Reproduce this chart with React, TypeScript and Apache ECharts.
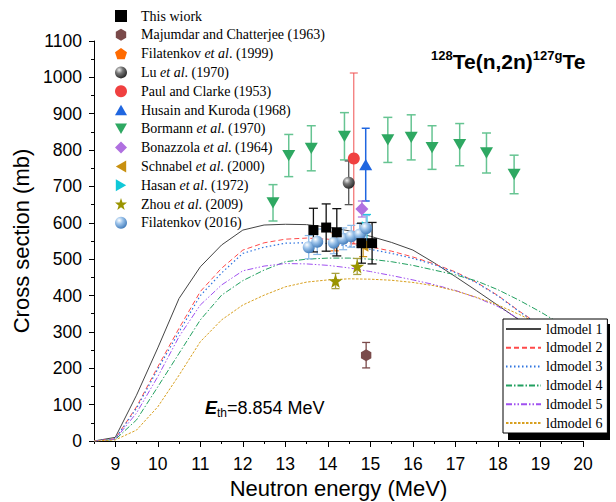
import React, { useEffect, useRef } from 'react';
import * as echarts from 'echarts';

// ---------- Model curves (TALYS-like ldmodels) ----------
const modelE = [8.5, 9, 9.5, 10, 10.5, 11, 11.5, 12, 12.5, 13, 13.5, 14, 14.5, 15, 15.5, 16, 16.5, 17, 17.5, 18, 18.5, 19, 19.5, 20];
const ld1 = [0, 10, 126, 256, 392, 479, 539, 580, 594, 596, 595, 588, 578, 563, 546, 525, 490, 452, 413, 373, 333, 292, 252, 212];
const ld2 = [0, 6, 94, 204, 310, 411, 475, 525, 545, 555, 558, 555, 546, 534, 522, 506, 487, 465, 436, 400, 357, 318, 278, 240];
const ld3 = [0, 6, 90, 198, 300, 400, 462, 516, 533, 544, 545, 543, 536, 527, 516, 502, 485, 463, 435, 399, 356, 317, 277, 238];
const ld4 = [0, 4, 58, 149, 241, 333, 401, 441, 470, 493, 500, 503, 503, 500, 493, 483, 470, 457, 440, 416, 387, 355, 320, 285];
const ld5 = [0, 5, 77, 177, 287, 374, 429, 468, 481, 488, 487, 483, 476, 466, 455, 443, 430, 414, 394, 370, 335, 300, 265, 230];
const ld6 = [0, 3, 30, 94, 181, 273, 333, 374, 401, 424, 437, 443, 446, 445, 442, 436, 427, 413, 395, 374, 348, 320, 290, 260];
const modelNames = ['ldmodel 1', 'ldmodel 2', 'ldmodel 3', 'ldmodel 4', 'ldmodel 5', 'ldmodel 6'];

// ---------- Experimental data ----------
const thisWorkE = [13.66, 13.96, 14.21, 14.79, 15.04];
const thisWorkV = [580, 587, 574, 544, 544];
const thisWorkErr = [60, 65, 65, 55, 57];

const majumdarE = [14.9];
const majumdarV = [236];
const majumdarErr = [35];

const filat1999E = [14.16];
const filat1999V = [548];
const filat1999Err = [25];

const luE = [14.49];
const luV = [710];
const luErr = [60];

const paulE = [14.61];
const paulV = [777];
const paulErr = [235];

const husainE = [14.89];
const husainV = [760];
const husainErr = [100];

const bormannE = [12.71, 13.08, 13.61, 14.39, 15.41, 15.96, 16.45, 17.1, 17.73, 18.38];
const bormannV = [655, 785, 805, 838, 828, 835, 807, 815, 792, 733];
const bormannErr = [50, 58, 62, 65, 62, 62, 60, 58, 55, 53];

const bonazzolaE = [14.8];
const bonazzolaV = [638];
const bonazzolaErr = [22];

const schnabelE = [14.83];
const schnabelV = [537];
const schnabelErr = [30];

const hasanE = [14.92];
const hasanV = [588];
const hasanErr = [35];

const zhouE = [14.18, 14.69];
const zhouV = [440, 480];
const zhouErr = [21, 22];

const filat2016E = [13.55, 13.75, 14.14, 14.36, 14.55, 14.75, 14.9];
const filat2016V = [533, 548, 545, 556, 563, 568, 585];
const filat2016Err = [32, 35, 30, 30, 30, 30, 35];

const expNames = [
  'This wiork',
  'Majumdar and Chatterjee (1963)',
  'Filatenkov et al. (1999)',
  'Lu et al. (1970)',
  'Paul and Clarke (1953)',
  'Husain and Kuroda (1968)',
  'Bormann et al. (1970)',
  'Bonazzola et al. (1964)',
  'Schnabel et al. (2000)',
  'Hasan et al. (1972)',
  'Zhou et al. (2009)',
  'Filatenkov (2016)',
];

const xMajor = [9, 10, 11, 12, 13, 14, 15, 16, 17, 18, 19, 20];
const xMinor = [8.5, 9.5, 10.5, 11.5, 12.5, 13.5, 14.5, 15.5, 16.5, 17.5, 18.5, 19.5];

const SANS = 'Liberation Sans';
const SERIF = 'Liberation Serif';

const SYM = {
  hexagon: 'path://M5,0L9.33,2.5L9.33,7.5L5,10L0.67,7.5L0.67,2.5Z',
  pentagon: 'path://M5,0L9.76,3.45L7.94,9.05L2.06,9.05L0.24,3.45Z',
  down: 'path://M0,0L10,0L5,8.66Z',
  up: 'path://M5,0L10,8.66L0,8.66Z',
  left: 'path://M8.66,0L8.66,10L0,5Z',
  right: 'path://M0,0L0,10L8.66,5Z',
  diamond: 'path://M5,0L10,5L5,10L0,5Z',
  square: 'path://M0,0L10,0L10,10L0,10Z',
  star: 'path://M5,0L6.18,3.62L9.76,3.62L6.9,5.86L7.94,9.51L5,7.24L2.06,9.51L3.1,5.86L0.24,3.62L3.82,3.62Z',
};

function sphere(light: string, mid: string, dark: string) {
  return new echarts.graphic.RadialGradient(0.35, 0.3, 0.75, [
    { offset: 0, color: light },
    { offset: 0.4, color: mid },
    { offset: 1, color: dark },
  ]);
}

function errSeries(E: number[], V: number[], err: number[], color: string, lw = 1.2, cap = 8) {
  return {
    type: 'custom',
    silent: true,
    z: 2,
    data: E.map((e, i) => [e, V[i] - err[i], V[i] + err[i]]),
    encode: { x: 0, y: [1, 2] },
    renderItem: (params: any, api: any) => {
      const x = api.value(0);
      const lo = api.value(1);
      const hi = api.value(2);
      const top = api.coord([x, hi]);
      const bot = api.coord([x, lo]);
      const h = cap / 2;
      const st = { stroke: color, lineWidth: lw };
      return {
        type: 'group',
        children: [
          { type: 'line', shape: { x1: top[0], y1: top[1], x2: bot[0], y2: bot[1] }, style: st },
          { type: 'line', shape: { x1: top[0] - h, y1: top[1], x2: top[0] + h, y2: top[1] }, style: st },
          { type: 'line', shape: { x1: bot[0] - h, y1: bot[1], x2: bot[0] + h, y2: bot[1] }, style: st },
        ],
      };
    },
  };
}

function scatter(name: string, E: number[], V: number[], symbol: string, size: number, color: any) {
  return {
    type: 'scatter',
    name,
    z: 3,
    symbol,
    symbolSize: size,
    symbolKeepAspect: true,
    itemStyle: { color, opacity: 1 },
    data: E.map((e, i) => [e, V[i]]),
  };
}

function modelLine(name: string, vals: number[], color: string, dash: any, width = 1) {
  return {
    type: 'line',
    name,
    z: 1,
    symbol: 'none',
    lineStyle: { color, width, type: dash },
    itemStyle: { color },
    data: modelE.map((e, i) => [e, vals[i]]),
  };
}

function legendFormatter(name: string) {
  const idx = name.indexOf('et al');
  if (idx < 0) return '{n|' + name + '}';
  return '{n|' + name.slice(0, idx) + '}{i|et al}{n|' + name.slice(idx + 5) + '}';
}

export default function App() {
  const ref = useRef<HTMLDivElement>(null);
  useEffect(() => {
    const chart = echarts.init(ref.current!, null, { renderer: 'svg' });
    const option: any = {
      animation: false,
      backgroundColor: '#fff',
      grid: { left: 94, right: 33, top: 41, bottom: 61, containLabel: false, outerBoundsMode: 'none' },
      xAxis: [
        {
          type: 'value',
          min: 8.5,
          max: 20,
          name: 'Neutron energy (MeV)',
          nameLocation: 'middle',
          nameGap: 34,
          nameTextStyle: { fontFamily: SANS, fontSize: 22, color: '#000' },
          axisLine: { show: true, lineStyle: { color: '#000', width: 1 } },
          axisTick: { show: true, customValues: xMajor, length: 6, lineStyle: { color: '#000' } },
          axisLabel: { customValues: xMajor, fontFamily: SANS, fontSize: 17.5, color: '#000', margin: 14, formatter: (v: number) => String(v) },
          splitLine: { show: false },
        },
        {
          type: 'value',
          min: 8.5,
          max: 20,
          position: 'bottom',
          axisLine: { show: false },
          axisTick: { show: true, customValues: xMinor, length: 3, lineStyle: { color: '#000' } },
          axisLabel: { show: false },
          splitLine: { show: false },
        },
      ],
      yAxis: {
        type: 'value',
        min: 0,
        max: 1100,
        interval: 100,
        name: 'Cross section (mb)',
        nameLocation: 'middle',
        nameGap: 54,
        nameTextStyle: { fontFamily: SANS, fontSize: 22, color: '#000' },
        axisLine: { show: true, lineStyle: { color: '#000', width: 1 } },
        axisTick: { show: true, length: 5, lineStyle: { color: '#000' } },
        minorTick: { show: true, splitNumber: 2, length: 3, lineStyle: { color: '#000' } },
        axisLabel: { fontFamily: SANS, fontSize: 17.5, color: '#000', margin: 12, formatter: (v: number) => String(v) },
        splitLine: { show: false },
      },
      legend: [
        {
          orient: 'vertical',
          left: 110,
          top: 4,
          itemWidth: 12,
          itemHeight: 12,
          itemGap: 4.8,
          selectedMode: false,
          data: expNames,
          formatter: legendFormatter,
          textStyle: {
            fontFamily: SERIF,
            fontSize: 14,
            lineHeight: 14,
            color: '#000',
            padding: [0, 0, 0, 9],
            rich: {
              n: { fontFamily: SERIF, fontSize: 14, lineHeight: 14, color: '#000' },
              i: { fontFamily: SERIF, fontSize: 14, lineHeight: 14, color: '#000', fontStyle: 'italic' },
            },
          },
        },
        {
          orient: 'vertical',
          left: 503,
          top: 319,
          itemWidth: 35,
          itemHeight: 14,
          itemGap: 4.8,
          padding: [3, 5, 3, 2],
          backgroundColor: '#fff',
          borderColor: '#000',
          borderWidth: 1,
          borderRadius: 0,
          z: 6,
          selectedMode: false,
          itemStyle: { opacity: 0 },
          data: modelNames,
          textStyle: { fontFamily: SERIF, fontSize: 14, lineHeight: 14, color: '#000' },
        },
      ],
      graphic: [
        {
          type: 'rect',
          z: 5,
          silent: true,
          shape: { x: 508, y: 324, width: 102, height: 116 },
          style: { fill: '#000' },
        },
        {
          type: 'text',
          left: 431,
          top: 49,
          z: 10,
          style: {
            text: '{s|128}{m|Te(n,2n)}{s|127g}{m|Te}',
            rich: {
              m: { fontFamily: SANS, fontSize: 21, fontWeight: 'bold', lineHeight: 25, fill: '#000' },
              s: { fontFamily: SANS, fontSize: 13, fontWeight: 'bold', lineHeight: 12, verticalAlign: 'top', fill: '#000' },
            },
          },
        },
        {
          type: 'text',
          left: 205,
          top: 399,
          z: 10,
          style: {
            text: '{e|E}{t|th}{r|=8.854 MeV}',
            rich: {
              e: { fontFamily: SANS, fontSize: 18, fontWeight: 'bold', fontStyle: 'italic', lineHeight: 22, fill: '#000' },
              t: { fontFamily: SANS, fontSize: 12, lineHeight: 12, verticalAlign: 'bottom', fill: '#000' },
              r: { fontFamily: SANS, fontSize: 18, lineHeight: 22, fill: '#000' },
            },
          },
        },
      ],
      series: [
        modelLine('ldmodel 1', ld1, '#444444', 'solid', 1),
        modelLine('ldmodel 2', ld2, '#ff4a4a', [5, 3], 1),
        modelLine('ldmodel 3', ld3, '#2f74e0', [1.5, 2.5], 1.2),
        modelLine('ldmodel 4', ld4, '#22a060', [6, 2, 1.5, 2], 1),
        modelLine('ldmodel 5', ld5, '#a050f0', [6, 2, 1.5, 2, 1.5, 2], 1),
        modelLine('ldmodel 6', ld6, '#d8a020', [2.5, 1.5], 1),

        errSeries(bormannE, bormannV, bormannErr, '#66c492', 1.5, 9),
        errSeries(paulE, paulV, paulErr, '#f05050', 1, 8),
        errSeries(luE, luV, luErr, '#555555', 1.3, 8),
        errSeries(husainE, husainV, husainErr, '#1f66e0', 1.5, 8),
        errSeries(bonazzolaE, bonazzolaV, bonazzolaErr, '#b070e0', 1.2, 8),
        errSeries(majumdarE, majumdarV, majumdarErr, '#7a4a4a', 1.3, 8),
        errSeries(zhouE, zhouV, zhouErr, '#a8a040', 1.3, 8),
        errSeries(schnabelE, schnabelV, schnabelErr, '#c89010', 1.2, 8),
        errSeries(hasanE, hasanV, hasanErr, '#1ec8e0', 1.2, 8),
        errSeries(filat1999E, filat1999V, filat1999Err, '#ff6a00', 1.2, 8),
        errSeries(filat2016E, filat2016V, filat2016Err, '#88b8e8', 1.2, 8),
        errSeries(thisWorkE, thisWorkV, thisWorkErr, '#111111', 1.3, 9),

        scatter(expNames[6], bormannE, bormannV, SYM.down, 13, '#2ea862'),
        scatter(expNames[4], paulE, paulV, 'circle', 12, '#f04040'),
        scatter(expNames[3], luE, luV, 'circle', 12, sphere('#eeeeee', '#777777', '#222222')),
        scatter(expNames[5], husainE, husainV, SYM.up, 13, '#1f66e0'),
        scatter(expNames[7], bonazzolaE, bonazzolaV, SYM.diamond, 13, '#b070e0'),
        scatter(expNames[1], majumdarE, majumdarV, SYM.hexagon, 12, '#7a4a4a'),
        scatter(expNames[10], zhouE, zhouV, SYM.star, 14, '#9a9400'),
        scatter(expNames[8], schnabelE, schnabelV, SYM.left, 12, '#c89010'),
        scatter(expNames[2], filat1999E, filat1999V, SYM.pentagon, 12, '#ff6a00'),
        scatter(expNames[9], hasanE, hasanV, SYM.right, 12, '#10c8d8'),
        scatter(expNames[11], filat2016E, filat2016V, 'circle', 12, sphere('#ffffff', '#9cc3ea', '#3d78b8')),
        scatter(expNames[0], thisWorkE, thisWorkV, SYM.square, 10, '#000000'),
      ],
    };
    chart.setOption(option);
    return () => chart.dispose();
  }, []);
  return (
    <div
      ref={ref}
      style={{ position: 'fixed', left: 0, top: 0, width: 616, height: 502, background: '#fff' }}
    />
  );
}
